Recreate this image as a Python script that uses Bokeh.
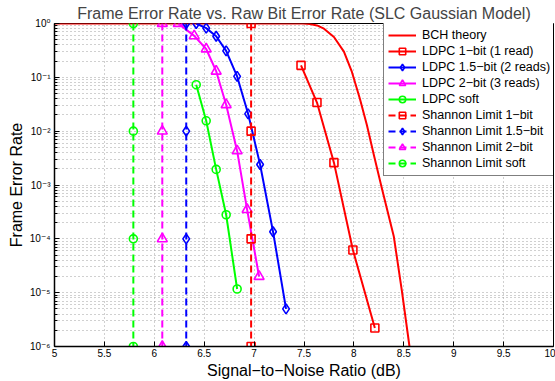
from bokeh.plotting import figure
from bokeh.models import (FixedTicker, CustomJSTickFormatter, Legend, LegendItem, Range1d)
from bokeh.embed import file_html
from bokeh.resources import INLINE

# ---------------- data ----------------
x_ticks = [5, 5.5, 6, 6.5, 7, 7.5, 8, 8.5, 9, 9.5, 10]
x_tick_labels = ["5", "5.5", "6", "6.5", "7", "7.5", "8", "8.5", "9", "9.5", "10"]
y_ticks = [1e-6, 1e-5, 1e-4, 1e-3, 1e-2, 1e-1, 1.0]
y_tick_labels = ["10\u207b\u2076", "10\u207b\u2075", "10\u207b\u2074", "10\u207b\u00b3",
                 "10\u207b\u00b2", "10\u207b\u00b9", "10\u2070"]
y_minor_mults = [2, 3, 4, 5, 6, 7, 8, 9]

snr_bch = [5.0, 7.0, 7.49, 7.56, 7.63, 7.70, 7.80, 7.90, 7.98, 8.06, 8.13, 8.20, 8.28, 8.40, 8.48, 8.557, 8.63]
fer_bch = [1.0, 1.0, 0.999, 0.98, 0.92, 0.80, 0.56, 0.30, 0.126, 0.040, 0.013, 3.6e-3, 8.7e-4, 1.1e-4, 1.1e-5, 1.0e-6, 1.0e-7]

snr_ldpc1 = [7.47, 7.63, 7.80, 7.99, 8.21]
fer_ldpc1 = [0.167, 0.034, 2.6e-3, 6.2e-5, 2.2e-6]

snr_ldpc15 = [6.42, 6.52, 6.62, 6.72, 6.83, 6.94, 7.06, 7.19, 7.32]
fer_ldpc15 = [1.0, 0.82, 0.58, 0.31, 0.104, 0.021, 2.4e-3, 1.35e-4, 5.0e-6]

snr_ldpc2 = [6.24, 6.40, 6.52, 6.62, 6.72, 6.83, 6.93, 7.05]
fer_ldpc2 = [1.0, 0.59, 0.336, 0.13, 0.031, 4.3e-3, 3.5e-4, 2.0e-5]

snr_soft = [6.42, 6.52, 6.62, 6.72, 6.83]
fer_soft = [0.073, 0.0156, 1.95e-3, 2.8e-4, 1.17e-5]

fer_shannon = [1.0, 1e-2, 1e-4, 1e-6]
snr_shannon1 = [6.97, 6.97, 6.97, 6.97]
snr_shannon15 = [6.32, 6.32, 6.32, 6.32]
snr_shannon2 = [6.08, 6.08, 6.08, 6.08]
snr_shannon_soft = [5.79, 5.79, 5.79, 5.79]

labels = ["BCH theory", "LDPC 1\u2212bit (1 read)", "LDPC 1.5\u2212bit (2 reads)",
          "LDPC 2\u2212bit (3 reads)", "LDPC soft", "Shannon Limit 1\u2212bit",
          "Shannon Limit 1.5\u2212bit", "Shannon Limit 2\u2212bit", "Shannon Limit soft"]

# ---------------- figure ----------------
FONT = "Liberation Sans, Arial, DejaVu Sans"
p = figure(width=555, height=381, x_range=Range1d(5, 10), y_range=Range1d(1e-6, 1),
           y_axis_type="log", output_backend="svg", toolbar_location=None,
           min_border_left=54, min_border_right=2, min_border_bottom=34, min_border_top=23,
           background_fill_color="white", border_fill_color="white")

p.title.text = "Frame Error Rate vs. Raw Bit Error Rate (SLC Gaussian Model)"
p.title.align = "center"
p.title.text_font = FONT
p.title.text_font_size = "16px"
p.title.text_font_style = "normal"
p.title.standoff = 4

p.outline_line_color = "black"
p.outline_line_width = 1
p.outline_line_alpha = 1

minor_y = [m * t for t in y_ticks[:-1] for m in y_minor_mults]
p.xaxis.ticker = FixedTicker(ticks=x_ticks)
p.yaxis.ticker = FixedTicker(ticks=y_ticks, minor_ticks=minor_y)

p.xaxis.formatter = CustomJSTickFormatter(args=dict(tv=x_ticks, tl=x_tick_labels), code="""
let best = 0, bd = Infinity;
for (let i = 0; i < tv.length; i++) { const d = Math.abs(tick - tv[i]); if (d < bd) { bd = d; best = i; } }
return tl[best];
""")
p.yaxis.formatter = CustomJSTickFormatter(args=dict(tv=y_ticks, tl=y_tick_labels), code="""
let best = 0, bd = Infinity;
for (let i = 0; i < tv.length; i++) { const d = Math.abs(Math.log(tick) - Math.log(tv[i])); if (d < bd) { bd = d; best = i; } }
return tl[best];
""")

for ax in (p.xaxis, p.yaxis):
    ax.axis_line_color = "black"
    ax.axis_line_width = 1.5
    ax.major_tick_in = 5
    ax.major_tick_out = 0
    ax.minor_tick_in = 3
    ax.minor_tick_out = 0
    ax.major_tick_line_color = "black"
    ax.minor_tick_line_color = "black"
    ax.major_label_text_font = FONT
    ax.major_label_text_font_size = "10px"
    ax.major_label_text_color = "black"
    ax.major_label_standoff = 2
    ax.axis_label_text_font = FONT
    ax.axis_label_text_font_size = "16px"
    ax.axis_label_text_font_style = "normal"
    ax.axis_label_text_color = "black"
    ax.axis_label_standoff = 2
p.yaxis.major_label_standoff = 4
p.yaxis.axis_label_standoff = 2

p.xaxis.axis_label = "Signal\u2212to\u2212Noise Ratio (dB)"
p.yaxis.axis_label = "Frame Error Rate"

GRID = "#a0a0a0"
p.xgrid.grid_line_color = GRID
p.xgrid.grid_line_dash = "1 3"
p.xgrid.grid_line_width = 1
p.ygrid.grid_line_color = GRID
p.ygrid.grid_line_dash = "1 3"
p.ygrid.minor_grid_line_color = GRID
p.ygrid.minor_grid_line_dash = "1 3"

RED, BLUE, MAG, GREEN = "#ff0000", "#0000ff", "#ff00ff", "#00ff00"
LW = 2
DASH = "7 4"

items = []
r = p.line(snr_bch, fer_bch, line_color=RED, line_width=LW)
items.append(LegendItem(label=labels[0], renderers=[r]))

def series(xs, ys, color, marker, size, dash, label):
    if dash:
        rl = p.line(xs, ys, line_color=color, line_width=LW, line_dash=dash)
    else:
        rl = p.line(xs, ys, line_color=color, line_width=LW)
    rs = p.scatter(xs, ys, marker=marker, size=size, line_color=color, fill_color=None, line_width=1.6)
    items.append(LegendItem(label=label, renderers=[rl, rs]))

series(snr_ldpc1, fer_ldpc1, RED, "square", 8, None, labels[1])
series(snr_ldpc15, fer_ldpc15, BLUE, "diamond", 10, None, labels[2])
series(snr_ldpc2, fer_ldpc2, MAG, "triangle", 10, None, labels[3])
series(snr_soft, fer_soft, GREEN, "circle", 8, None, labels[4])
series(snr_shannon1, fer_shannon, RED, "square", 8, DASH, labels[5])
series(snr_shannon15, fer_shannon, BLUE, "diamond", 10, DASH, labels[6])
series(snr_shannon2, fer_shannon, MAG, "triangle", 10, DASH, labels[7])
series(snr_shannon_soft, fer_shannon, GREEN, "circle", 8, DASH, labels[8])

legend = Legend(items=items, location=(329, 170), margin=0)
legend.border_line_color = "black"
legend.border_line_width = 1.5
legend.background_fill_color = "white"
legend.background_fill_alpha = 1
legend.label_text_font = FONT
legend.label_text_font_size = "12.5px"
legend.label_text_color = "black"
legend.glyph_width = 28
legend.glyph_height = 16
legend.label_height = 16
legend.label_width = 124
legend.label_standoff = 6
legend.spacing = 0
legend.padding = 4
p.add_layout(legend)

open("out.html", "w").write(file_html(p, INLINE))
